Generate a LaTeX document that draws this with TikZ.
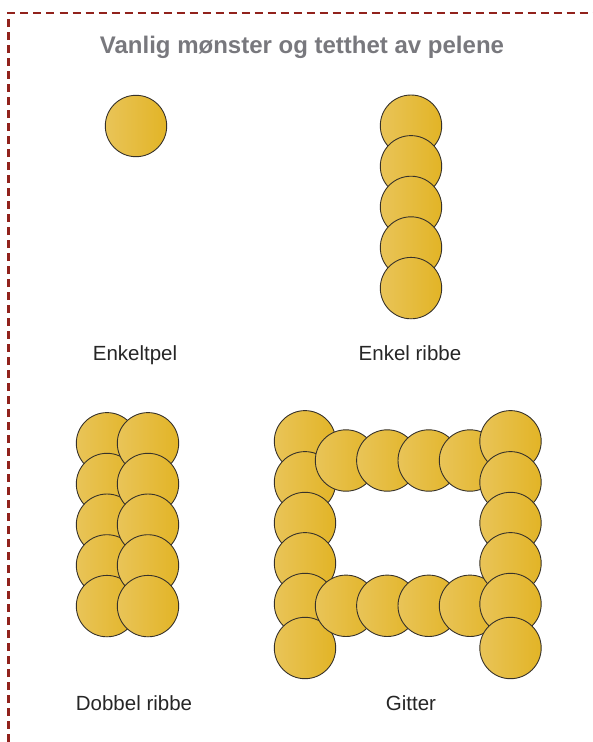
\documentclass[tikz,border=0pt]{standalone}
\usepackage{fontspec}
\setmainfont{Liberation Sans}
\usepackage{xcolor}
\usetikzlibrary{positioning}

\definecolor{frameRed}{RGB}{145,34,28}
\definecolor{titleGray}{RGB}{120,120,125}
\definecolor{pileLight}{RGB}{233,196,88}
\definecolor{pileDark}{RGB}{226,180,38}
\definecolor{pileEdge}{RGB}{55,50,42}

\begin{document}
\begin{tikzpicture}[x=1pt, y=-1pt,
  pile/.style={circle, draw=pileEdge, line width=0.9pt, left color=pileLight, right color=pileDark, minimum size=61.4pt, inner sep=0pt},
  lbl/.style={anchor=base, font=\fontsize{20.5}{22}\selectfont, text=black!85}]
\useasboundingbox (0,0) rectangle (593,742);
% frame
\draw[frameRed, line width=2.8pt, dash pattern=on 8pt off 5pt] (8.5,742) -- (8.5,13) -- (593,13);
\node[anchor=base, font=\bfseries\fontsize{24}{26}\selectfont, text=titleGray] (title) at (302,53) {Vanlig mønster og tetthet av pelene};

% enkeltpel
\node[pile] (single) at (136,126) {};
\node[lbl] (lblsingle) at (135,360) {Enkeltpel};

% enkel ribbe
\foreach \i in {0,...,4}
  \node[pile] (rib\i) at (411,125.7+40.6*\i) {};
\node[lbl] (lblrib) at (410,360) {Enkel ribbe};

% dobbel ribbe
\foreach \i in {0,...,4}
  \node[pile] (dl\i) at (107,443.3+40.7*\i) {};
\foreach \i in {0,...,4}
  \node[pile] (dr\i) at (148,443.3+40.7*\i) {};
\node[lbl] (lbldouble) at (134,710.5) {Dobbel ribbe};

% gitter
\foreach \y [count=\i] in {441.3,482.3,523,563.3,604,648}
  \node[pile] (gl\i) at (305,\y) {};
\foreach \x [count=\i] in {346,387.3,428.7,470}
  \node[pile] (gt\i) at (\x,460.5) {};
\foreach \x [count=\i] in {346,387.3,428.7,470}
  \node[pile] (gb\i) at (\x,605.8) {};
\foreach \y [count=\i] in {441.3,482.3,523,563.3,604,648}
  \node[pile] (gr\i) at (510.5,\y) {};
\node[lbl] (lblgrid) at (411,710.5) {Gitter};
\end{tikzpicture}
\end{document}
